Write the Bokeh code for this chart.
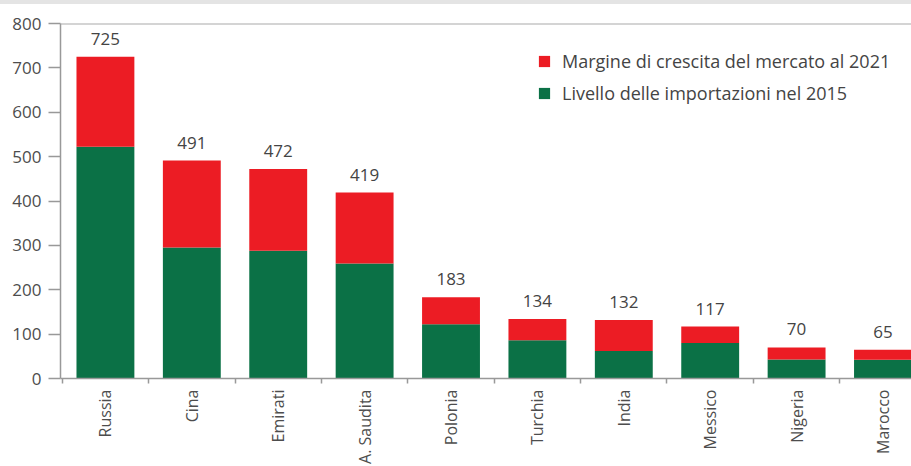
import math
from bokeh.plotting import figure
from bokeh.models import (ColumnDataSource, FixedTicker, Span, Legend, LegendItem, Div, Range1d)
from bokeh.layouts import column
from bokeh.core.properties import value
from bokeh.embed import file_html
from bokeh.resources import INLINE

countries = ["Russia", "Cina", "Emirati", "A. Saudita", "Polonia", "Turchia", "India", "Messico", "Nigeria", "Marocco"]
totals_2021 = [725, 491, 472, 419, 183, 134, 132, 117, 70, 65]
imports_2015 = [522, 295, 288, 259, 122, 86, 62, 80, 43, 42]
y_ticks = [0, 100, 200, 300, 400, 500, 600, 700, 800]

RED = "#EC1C24"
GREEN = "#0B7146"
FONT = "Open Sans"

xs = list(range(len(countries)))
src = ColumnDataSource(dict(
    x=xs,
    base=imports_2015,
    total=totals_2021,
    label=[str(v) for v in totals_2021],
))

p = figure(width=911, height=462, output_backend="svg", toolbar_location=None,
           x_range=Range1d(-0.52, 9.33), y_range=Range1d(0, 800),
           min_border_left=60, min_border_right=0, min_border_top=19, min_border_bottom=86)
p.outline_line_color = None
p.grid.grid_line_color = None
p.background_fill_color = "white"
p.border_fill_color = "white"

g = p.vbar(x="x", bottom=0, top="base", width=0.67, source=src, fill_color=GREEN, line_color=None)
r = p.vbar(x="x", bottom="base", top="total", width=0.67, source=src, fill_color=RED, line_color=None)

p.text(x="x", y="total", text="label", source=src, y_offset=-18,
       text_align="center", text_baseline="alphabetic", text_font=value(FONT),
       text_font_size="17px", text_color="#444444")

p.add_layout(Span(location=800, dimension="width", line_color="#aaaaaa", line_width=2))

# y axis
ya = p.yaxis[0]
ya.ticker = FixedTicker(ticks=y_ticks)
ya.axis_line_color = "#999999"
ya.axis_line_width = 1.5
ya.major_tick_line_color = "#999999"
ya.major_tick_line_width = 1.5
ya.major_tick_out = 12
ya.major_tick_in = 0
ya.minor_tick_line_color = None
ya.major_label_standoff = 7
ya.major_label_text_font = FONT
ya.major_label_text_font_size = "17px"
ya.major_label_text_color = "#4d4d4d"

# x axis
xa = p.xaxis[0]
xa.ticker = FixedTicker(ticks=xs, minor_ticks=[i - 0.5 for i in range(len(countries) + 1)])
xa.major_label_overrides = {i: c for i, c in enumerate(countries)}
xa.major_label_orientation = math.pi / 2
xa.axis_line_color = "#999999"
xa.axis_line_width = 1.5
xa.major_tick_line_color = None
xa.major_tick_out = 0
xa.major_tick_in = 0
xa.minor_tick_line_color = "#999999"
xa.minor_tick_line_width = 1.5
xa.minor_tick_out = 5
xa.minor_tick_in = 0
xa.major_label_standoff = 6
xa.major_label_text_font = FONT
xa.major_label_text_font_size = "16px"
xa.major_label_text_color = "#4d4d4d"

legend = Legend(items=[
    LegendItem(label="Margine di crescita del mercato al 2021", renderers=[r]),
    LegendItem(label="Livello delle importazioni nel 2015", renderers=[g]),
], location=(477, 273))
legend.padding = 0
legend.margin = 0
legend.border_line_color = None
legend.background_fill_alpha = 0
legend.glyph_width = 14
legend.glyph_height = 14
legend.label_height = 14
legend.spacing = 8
legend.label_standoff = 11
legend.label_text_font = FONT
legend.label_text_font_size = "18px"
legend.label_text_color = "#444444"
p.add_layout(legend)

band = Div(text="", width=911, height=4, margin=0, styles={"background-color": "#e4e4e4"})
layout = column(band, p, spacing=0, margin=0)

open("out.html", "w").write(file_html(layout, INLINE))
